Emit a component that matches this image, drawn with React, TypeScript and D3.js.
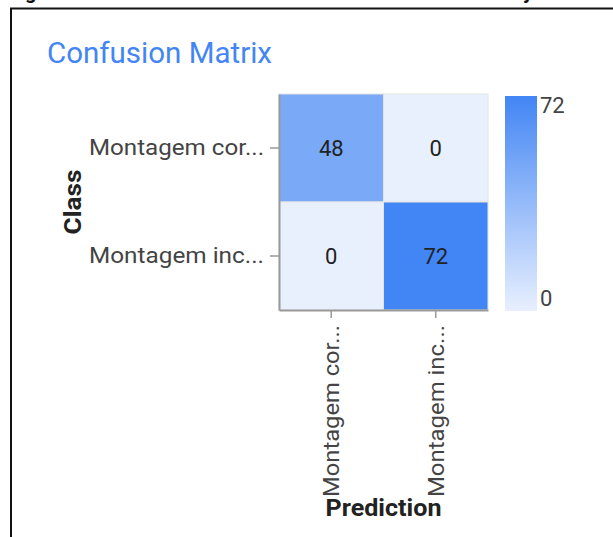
import React, { useEffect, useRef } from 'react';
import * as d3 from 'd3';

// class names as shown (truncated by the original chart)
const classes = ['Montagem cor...', 'Montagem inc...'];
const predictions = ['Montagem cor...', 'Montagem inc...'];
// rows = actual class, cols = prediction
const counts = [
  [48, 0],
  [0, 72],
];
const legendTicks = [0, 72];

const W = 613;
const H = 537;

const App: React.FC = () => {
  const svgRef = useRef<SVGSVGElement>(null);

  useEffect(() => {
    if (!svgRef.current) return;
    const svg = d3.select(svgRef.current);
    svg.selectAll('*').remove();

    const font = 'Roboto, Arial, sans-serif';

    // screenshot frame
    svg.append('path')
      .attr('d', `M10,8.5H${W}M11,8V${H}`)
      .attr('stroke', '#111')
      .attr('stroke-width', 2)
      .attr('fill', 'none');

    // cut-off text above the frame (only descenders visible in the screenshot)
    svg.append('text').attr('x', 25).attr('y', -1).attr('font-family', font)
      .attr('font-weight', 'bold').attr('font-size', 20).attr('fill', '#111').text('g');
    svg.append('text').attr('x', 523).attr('y', -1).attr('font-family', font)
      .attr('font-weight', 'bold').attr('font-size', 20).attr('fill', '#111').text('y');

    // title
    svg.append('text')
      .attr('x', 47)
      .attr('y', 63)
      .attr('font-family', font)
      .attr('font-size', 29)
      .attr('fill', '#4285f4')
      .attr('textLength', 225)
      .attr('lengthAdjust', 'spacingAndGlyphs')
      .text('Confusion Matrix');

    const left = 279, right = 488, top = 94, bottom = 310;

    const x = d3.scaleBand().domain(predictions.map((_, i) => String(i))).range([left, right]);
    const y = d3.scaleBand().domain(classes.map((_, i) => String(i))).range([top, bottom]);

    const color = d3.scaleLinear<string>()
      .domain([0, 72])
      .range(['#e8f0fe', '#4285f4'])
      .interpolate(d3.interpolateRgb);

    const cells = counts.flatMap((row, r) => row.map((v, c) => ({ r, c, v })));

    const g = svg.append('g');

    g.selectAll('rect.cell')
      .data(cells)
      .enter()
      .append('rect')
      .attr('class', 'cell')
      .attr('x', d => x(String(d.c))!)
      .attr('y', d => y(String(d.r))!)
      .attr('width', x.bandwidth())
      .attr('height', y.bandwidth())
      .attr('fill', d => color(d.v))
      .attr('stroke', '#e4e4e4')
      .attr('stroke-width', 1);

    g.selectAll('text.val')
      .data(cells)
      .enter()
      .append('text')
      .attr('class', 'val')
      .attr('x', d => x(String(d.c))! + x.bandwidth() / 2)
      .attr('y', d => y(String(d.r))! + y.bandwidth() / 2)
      .attr('dy', '0.36em')
      .attr('text-anchor', 'middle')
      .attr('font-family', font)
      .attr('font-size', 22)
      .attr('fill', '#222')
      .text(d => d.v);

    // Y axis
    const yAxis = svg.append('g')
      .attr('transform', `translate(${left},0)`)
      .call(d3.axisLeft(y).tickSize(9).tickPadding(6).tickSizeOuter(0).tickFormat(d => classes[+d]));
    yAxis.selectAll('text')
      .attr('font-family', font)
      .attr('font-size', 22)
      .attr('fill', '#444')
      .attr('textLength', 175)
      .attr('lengthAdjust', 'spacingAndGlyphs');

    // X axis
    const xAxis = svg.append('g')
      .attr('transform', `translate(0,${bottom})`)
      .call(d3.axisBottom(x).tickSize(8).tickSizeOuter(0).tickFormat(d => predictions[+d]));
    xAxis.selectAll('text')
      .attr('font-family', font)
      .attr('font-size', 22)
      .attr('fill', '#444')
      .attr('text-anchor', 'end')
      .attr('transform', 'rotate(-90)')
      .attr('x', -15)
      .attr('y', 0)
      .attr('dy', '0.36em')
      .attr('textLength', 172)
      .attr('lengthAdjust', 'spacingAndGlyphs');

    [yAxis, xAxis].forEach(a => {
      a.select('.domain').attr('stroke', '#999').attr('stroke-width', 2);
      a.selectAll('.tick line').attr('stroke', '#999').attr('stroke-width', 1.5);
    });

    // axis titles
    svg.append('text')
      .attr('transform', `translate(81,${(top + bottom) / 2}) rotate(-90)`)
      .attr('text-anchor', 'middle')
      .attr('font-family', font)
      .attr('font-weight', 'bold')
      .attr('font-size', 24)
      .attr('fill', '#222')
      .attr('textLength', 65)
      .attr('lengthAdjust', 'spacingAndGlyphs')
      .text('Class');

    svg.append('text')
      .attr('x', (left + right) / 2)
      .attr('y', 516)
      .attr('text-anchor', 'middle')
      .attr('font-family', font)
      .attr('font-weight', 'bold')
      .attr('font-size', 23)
      .attr('fill', '#222')
      .attr('textLength', 116)
      .attr('lengthAdjust', 'spacingAndGlyphs')
      .text('Prediction');

    // colour legend
    const defs = svg.append('defs');
    const grad = defs.append('linearGradient')
      .attr('id', 'legend-grad')
      .attr('x1', 0).attr('y1', 1).attr('x2', 0).attr('y2', 0);
    grad.append('stop').attr('offset', '0%').attr('stop-color', color(0));
    grad.append('stop').attr('offset', '100%').attr('stop-color', color(72));

    const ly = d3.scaleLinear().domain([0, 72]).range([311, 96]);
    svg.append('rect')
      .attr('x', 505)
      .attr('y', ly(72))
      .attr('width', 32)
      .attr('height', ly(0) - ly(72))
      .attr('fill', 'url(#legend-grad)');

    svg.selectAll('text.leg')
      .data(legendTicks)
      .enter()
      .append('text')
      .attr('class', 'leg')
      .attr('x', 540)
      .attr('y', d => (d === 72 ? ly(d) + 17 : ly(d) - 5))
      .attr('font-family', font)
      .attr('font-size', 22)
      .attr('fill', '#444')
      .text(d => d);
  }, []);

  return (
    <svg
      ref={svgRef}
      width={W}
      height={H}
      style={{ position: 'absolute', left: 0, top: 0, background: '#fff', display: 'block' }}
    />
  );
};

export default App;
